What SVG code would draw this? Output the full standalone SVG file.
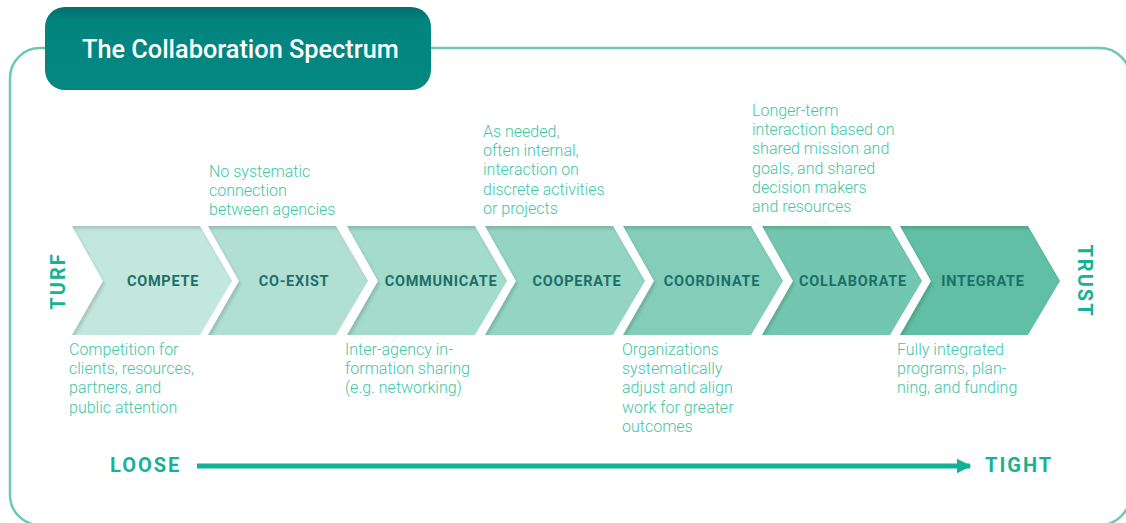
<svg xmlns="http://www.w3.org/2000/svg" width="1126" height="523" viewBox="0 0 1126 523">
<defs>
<style>
.desc{font-family:Roboto,"Liberation Sans",sans-serif;font-size:16px;font-weight:300;fill:#3fc6a6}
.lab{font-family:Roboto,"Liberation Sans",sans-serif;font-size:14.5px;font-weight:700;fill:#1d6f69;letter-spacing:0.75px;text-anchor:middle}
.end{font-family:Roboto,"Liberation Sans",sans-serif;font-size:20px;font-weight:700;fill:#17b195;letter-spacing:2px}
.frame{fill:none;stroke:#6dcab1;stroke-width:2.5}
.conn{stroke:#12b394;stroke-width:5;fill:none}
</style>
<linearGradient id="tg" x1="0" y1="0" x2="0" y2="1">
<stop offset="0" stop-color="#026f6b"/>
<stop offset="0.18" stop-color="#03857f"/>
<stop offset="1" stop-color="#038781"/>
</linearGradient>
<filter id="inset" x="-5%" y="-10%" width="110%" height="120%">
<feComponentTransfer in="SourceAlpha" result="inv"><feFuncA type="table" tableValues="1 0"/></feComponentTransfer>
<feOffset in="inv" dx="2" dy="2.5" result="off"/>
<feGaussianBlur in="off" stdDeviation="1.8" result="blur"/>
<feFlood flood-color="#000" flood-opacity="0.28"/>
<feComposite in2="blur" operator="in" result="sh"/>
<feComposite in="sh" in2="SourceAlpha" operator="in" result="sh2"/>
<feMerge><feMergeNode in="SourceGraphic"/><feMergeNode in="sh2"/></feMerge>
</filter>
<marker id="ah" viewBox="0 0 10 10" refX="9" refY="5" markerWidth="3" markerHeight="3.4" orient="auto" markerUnits="strokeWidth">
<path d="M0,0 L10,5 L0,10 Z" fill="#12b394"/>
</marker>
<polygon id="chev" points="0,0 128,0 160,55 128,109 0,109 31,55"/>
</defs>

<g id="frame">
<path class="frame" d="M45,48 L40,48 A30,30 0 0 0 10,78 L10,495 A30,30 0 0 0 40,525 L1100,525 A30,30 0 0 0 1130,495 L1130,78 A30,30 0 0 0 1100,48 L431,48"/>
</g>

<g id="title">
<rect x="45" y="7" width="386" height="83" rx="20" fill="url(#tg)"/>
<text x="82" y="58" font-family="Roboto,'Liberation Sans',sans-serif" font-size="25.3" font-weight="500" fill="#ffffff">The Collaboration Spectrum</text>
</g>

<g id="turf"><text class="end" transform="translate(65,281) rotate(-90)" text-anchor="middle">TURF</text></g>
<g id="trust"><text class="end" transform="translate(1078,281) rotate(90)" text-anchor="middle">TRUST</text></g>

<g id="compete">
<use href="#chev" x="72" y="226" fill="#c2e7dc" filter="url(#inset)"/>
<text class="lab" x="163" y="286">COMPETE</text>
</g>
<g id="coexist">
<use href="#chev" x="208" y="226" fill="#b1e0d3" filter="url(#inset)"/>
<text class="lab" x="294" y="286">CO-EXIST</text>
</g>
<g id="communicate">
<use href="#chev" x="347" y="226" fill="#a3dccb" filter="url(#inset)"/>
<text class="lab" x="441" y="286">COMMUNICATE</text>
</g>
<g id="cooperate">
<use href="#chev" x="485" y="226" fill="#93d5c2" filter="url(#inset)"/>
<text class="lab" x="577" y="286">COOPERATE</text>
</g>
<g id="coordinate">
<use href="#chev" x="623" y="226" fill="#84ceb9" filter="url(#inset)"/>
<text class="lab" x="712" y="286">COORDINATE</text>
</g>
<g id="collaborate">
<use href="#chev" x="762" y="226" fill="#73c7b0" filter="url(#inset)"/>
<text class="lab" x="853" y="286">COLLABORATE</text>
</g>
<g id="integrate">
<use href="#chev" x="900" y="226" fill="#60bfa5" filter="url(#inset)"/>
<text class="lab" x="983" y="286">INTEGRATE</text>
</g>

<g id="desc-coexist"><text class="desc" x="209" y="177"><tspan x="209">No systematic</tspan><tspan x="209" dy="19.2">connection</tspan><tspan x="209" dy="19.2">between agencies</tspan></text></g>
<g id="desc-cooperate"><text class="desc" x="483" y="137"><tspan x="483">As needed,</tspan><tspan x="483" dy="19.2">often internal,</tspan><tspan x="483" dy="19.2">interaction on</tspan><tspan x="483" dy="19.2">discrete activities</tspan><tspan x="483" dy="19.2">or projects</tspan></text></g>
<g id="desc-collaborate"><text class="desc" x="752" y="116"><tspan x="752">Longer-term</tspan><tspan x="752" dy="19.2">interaction based on</tspan><tspan x="752" dy="19.2">shared mission and</tspan><tspan x="752" dy="19.2">goals, and shared</tspan><tspan x="752" dy="19.2">decision makers</tspan><tspan x="752" dy="19.2">and resources</tspan></text></g>
<g id="desc-compete"><text class="desc" x="69" y="355"><tspan x="69">Competition for</tspan><tspan x="69" dy="19.2">clients, resources,</tspan><tspan x="69" dy="19.2">partners, and</tspan><tspan x="69" dy="19.2">public attention</tspan></text></g>
<g id="desc-communicate"><text class="desc" x="345" y="355"><tspan x="345">Inter-agency in-</tspan><tspan x="345" dy="19.2">formation sharing</tspan><tspan x="345" dy="19.2">(e.g. networking)</tspan></text></g>
<g id="desc-coordinate"><text class="desc" x="622" y="355"><tspan x="622">Organizations</tspan><tspan x="622" dy="19.2">systematically</tspan><tspan x="622" dy="19.2">adjust and align</tspan><tspan x="622" dy="19.2">work for greater</tspan><tspan x="622" dy="19.2">outcomes</tspan></text></g>
<g id="desc-integrate"><text class="desc" x="897" y="355"><tspan x="897">Fully integrated</tspan><tspan x="897" dy="19.2">programs, plan-</tspan><tspan x="897" dy="19.2">ning, and funding</tspan></text></g>

<g id="loose"><text class="end" x="110" y="472" font-size="19" letter-spacing="1.2">LOOSE</text></g>
<g id="tight"><text class="end" x="985" y="472" font-size="19" letter-spacing="1.2">TIGHT</text></g>

<g id="connectors">
<line class="conn" x1="197" y1="466" x2="970" y2="466" marker-end="url(#ah)"/>
</g>
</svg>
